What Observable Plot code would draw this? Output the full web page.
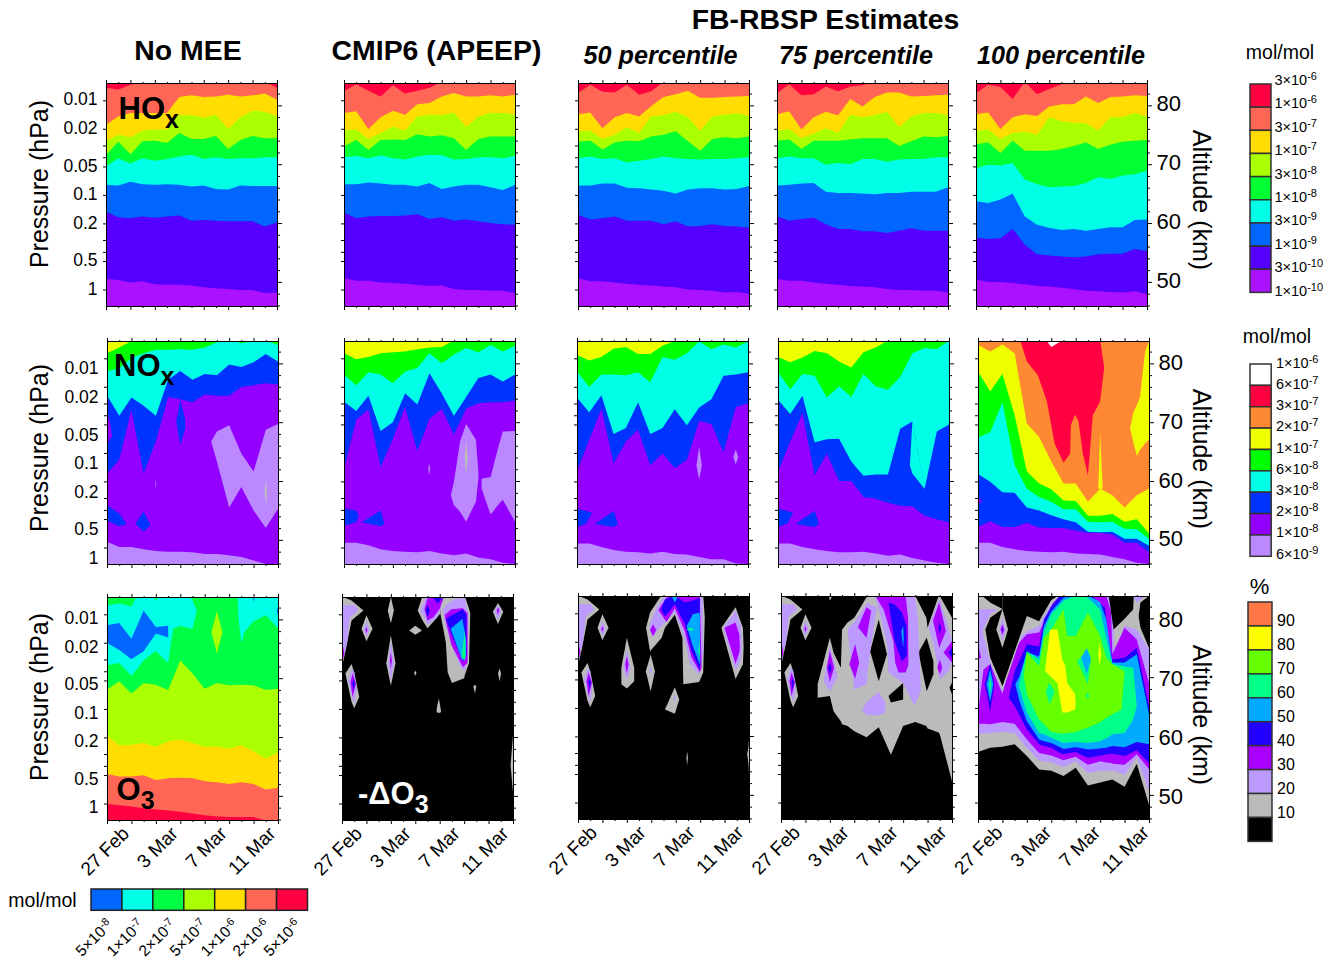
<!DOCTYPE html>
<html><head><meta charset="utf-8">
<script src="https://cdn.jsdelivr.net/npm/d3@7"></script>
<script src="https://cdn.jsdelivr.net/npm/@observablehq/plot@0.6"></script>
<style>
html,body{margin:0;padding:0;background:#fff}
#page{position:relative;width:1333px;height:958px;overflow:hidden;font-family:"Liberation Sans",Arial,sans-serif;color:#000}
#page>svg,#page>div.p{position:absolute}
.t{position:absolute;white-space:nowrap;line-height:1}
.t sup{font-size:11px;vertical-align:5px;line-height:0}
</style></head><body><div id="page"></div>
<script>
const T = 84;
const days = [0,1,2,3,4,5,6,7,8,9,10,11,12,13,14];
const tickDays = [2,6,10,14];
const tickNames = ["27 Feb","3 Mar","7 Mar","11 Mar"];
const pressureTicks = [0.01,0.02,0.03,0.04,0.05,0.1,0.2,0.3,0.4,0.5,1];
const pressureLabels = [0.01,0.02,0.05,0.1,0.2,0.5,1];
const altitudeTicks = [50,60,70,80];
const altitudeMinor = [46,48,52,54,56,58,62,64,66,68,72,74,76,78,82];

const hoxColors = ["#aa11ff","#5500ff","#0066ff","#00ffe6","#00ff33","#aaff00","#ffdd00","#ff6655","#ff0040"];
const noxColors = ["#bb88ff","#9400ff","#0033ff","#00ffe6","#00ff00","#eeff00","#ff8833","#ff0040","#ffffff","#bdbdbd"];
const o3Colors = ["#ff0040","#ff6655","#ffdd00","#aaff00","#00ff44","#00ffe6","#0066ff"];
const dO3Colors = ["#000000","#bbbbbb","#bb99ff","#aa00ff","#2200ff","#00aaff","#00ff88","#66ff00","#ffff00","#ff7744"];

// HOx: altitude (km) of each contour level against day
const hoxNoMee = [
[50.5,50.3,49.9,50.1,49.6,49.5,49.5,49.4,49.1,48.9,48.8,48.6,48.6,48.1,48.2],
[61.9,61.0,60.8,61.1,60.9,61.1,61.3,60.4,60.5,60.4,60.3,60.3,60.3,59.4,60.1],
[66.5,66.4,67.0,66.6,66.5,66.6,66.5,66.2,66.4,65.8,65.7,66.4,66.3,66.3,66.3],
[69.6,71.0,70.1,71.0,70.6,70.9,71.3,71.6,70.9,71.2,70.9,71.0,71.0,71.2,71.2],
[71.5,73.8,71.7,73.9,74.0,73.6,75.3,74.3,74.3,74.8,72.6,74.1,74.8,74.4,74.4],
[73.9,75.0,74.6,75.7,75.9,75.9,78.3,78.3,77.9,78.4,76.0,78.0,79.1,78.9,78.1],
[76.7,78.1,78.7,78.7,78.7,78.7,81.4,81.7,81.4,81.5,81.8,81.5,81.7,82.0,81.0],
[83.0,82.7,83.5,T,T,T,T,T,T,T,T,T,T,T,83.0]];
const hoxCmip = [
[50.6,50.2,50.2,49.9,49.8,49.7,49.5,49.3,49.4,48.8,48.6,48.6,48.5,48.5,48.1],
[61.8,60.8,61.1,61.2,61.2,61.3,61.5,60.7,61.0,60.4,60.6,60.3,60.0,59.8,59.7],
[66.6,66.6,66.9,66.7,66.5,66.5,66.2,66.8,65.8,66.2,66.5,66.5,66.1,65.6,66.5],
[71.2,71.4,71.0,71.5,71.0,70.8,71.3,71.6,71.5,70.8,70.9,71.2,71.2,71.0,71.4],
[73.0,74.1,72.4,74.1,74.2,74.1,75.1,74.7,74.9,74.4,72.4,74.3,74.7,74.7,74.7],
[75.8,75.9,74.3,75.3,76.4,75.7,78.1,78.4,78.3,78.8,76.3,78.1,78.7,78.7,78.5],
[78.7,79.0,76.0,78.0,79.1,78.4,80.2,80.4,81.5,82.1,81.5,81.5,81.7,81.5,81.8],
[82.4,83.6,82.5,81.5,83.4,82.0,82.5,83.0,T,T,T,T,T,T,T]];
const hox50 = [
[50.6,50.1,50.1,49.9,49.7,49.5,49.4,49.2,49.1,48.7,48.6,48.5,48.2,48.3,48.0],
[61.4,60.6,60.8,61.1,60.4,60.4,60.4,59.8,60.3,59.4,59.5,59.8,59.5,59.4,59.2],
[66.4,66.4,66.7,66.7,66.0,65.9,65.7,65.5,65.0,65.7,65.9,65.9,65.7,65.8,66.3],
[71.0,71.3,70.9,71.0,70.3,70.6,70.9,71.3,71.0,70.9,70.8,70.9,70.9,71.0,71.2],
[73.8,74.0,72.5,73.7,74.0,73.9,74.7,75.0,75.6,73.9,72.3,74.3,74.6,74.4,74.7],
[75.6,75.7,74.3,75.0,76.3,75.3,78.1,78.3,78.9,78.0,75.7,78.1,78.4,78.6,78.2],
[78.5,78.8,76.1,78.0,78.7,78.1,79.9,81.4,81.9,82.5,81.3,81.3,81.4,81.5,81.6],
[82.1,83.5,82.3,82.2,83.5,81.8,82.4,T,T,T,T,T,T,T,T]];
const hox75 = [
[50.5,50.2,50.2,49.9,49.7,49.5,49.3,49.2,49.1,48.8,48.6,48.6,48.5,48.5,48.2],
[61.1,60.4,60.7,60.9,59.8,59.0,59.0,58.6,58.6,58.3,58.7,59.1,58.7,58.7,58.7],
[66.4,66.5,66.7,66.8,65.3,65.1,65.1,65.0,64.9,65.1,65.1,65.3,65.3,65.3,66.1],
[71.0,71.3,71.0,71.0,69.9,70.2,70.0,70.9,70.9,70.4,70.8,70.9,70.9,71.2,71.2],
[74.0,74.2,72.6,74.0,74.0,74.0,74.2,74.4,74.4,74.4,73.1,73.9,74.7,74.6,74.8],
[75.7,76.0,74.4,75.2,76.1,75.3,78.4,78.0,78.3,78.9,76.3,78.1,78.7,78.7,78.3],
[78.5,79.0,75.9,78.0,78.9,78.3,81.1,79.8,81.4,82.2,82.2,81.5,81.6,81.7,81.8],
[82.1,83.6,81.7,81.9,83.2,82.4,83.2,83.4,T,T,T,T,T,T,T]];
const hox100 = [
[50.4,50.0,50.0,49.8,49.6,49.3,49.2,49.0,48.8,48.5,48.4,48.3,48.2,48.4,47.9],
[57.5,57.3,57.4,59.0,56.3,54.7,54.5,54.3,54.2,54.3,54.7,54.8,54.8,55.6,55.2],
[63.7,63.4,64.0,65.0,61.1,59.7,59.2,58.8,59.0,58.7,59.0,59.3,59.3,60.5,60.6],
[69.3,69.9,69.8,70.2,67.4,66.6,66.1,66.2,66.3,66.8,67.8,67.5,68.1,68.3,68.9],
[73.4,73.7,71.9,74.0,72.3,72.3,72.3,72.6,73.1,73.7,72.6,73.3,73.8,74.0,74.1],
[75.7,75.9,74.3,75.3,75.5,75.0,78.0,77.3,77.0,77.0,75.7,78.0,78.0,78.7,78.1],
[78.5,78.8,76.0,78.0,78.5,78.2,79.8,80.2,80.2,81.5,80.4,81.4,81.5,81.7,81.6],
[82.1,83.5,83.1,81.1,T,81.9,82.8,83.6,T,T,T,T,T,T,T]];

// NOx
const noxNoMee = [
[49.7,48.8,48.8,48.4,48.1,48.0,48.0,47.9,47.6,47.6,47.4,47.1,46.5,45.9,45.9],
[61.3,63.6,72.1,61.3,66.7,74.3,73.9,73.4,74.7,74.5,74.5,76.0,76.3,76.6,76.4],
[74.6,71.1,74.2,72.8,71.1,77.2,78.7,77.2,78.2,78.0,79.8,79.4,80.2,81.6,80.3],
[78.6,79.2,80.9,81.7,82.3,82.3,82.4,82.3,82.7,83.6,T,83.4,83.9,83.9,83.1],
[81.7,82.7,83.8,T,T,T,T,T,T,T,T,T,T,T,T]];
const noxNoMeeExtra = [
[1,[0,.2,.4],[71.5,70.4,67.8],[65.8,67.0,67.5]],
[2,[5.67,6,6.4],[70.1,73.8,70.4],[70.1,66.1,69.0]],
[2,[0,1,1.6],[55.9,54.5,52.7],[53.3,52.3,52.7]],
[2,[2.33,3,3.55],[52.8,54.8,52.5],[52.8,51.4,52.5]],
[0,[8.53,9,10,11,12,13,14],[66.7,68.4,69.5,64.7,61.6,68.7,69.7],[66.7,63.3,55.5,59.0,55.0,52.0,55.3]],
[9,[12.9,13,13.1],[58.2,60.2,58.2],[58.2,55.9,58.2]],
[0,[3.97,4,4.03],[59.5,60.4,59.5],[59.5,58.4,59.5]]];
const noxCmip = [
[49.5,49.5,49.1,48.4,48.1,48.0,47.9,48.1,47.7,47.4,47.7,47.0,46.7,46.1,45.9],
[62.1,70.4,72.2,62.4,67.2,72.6,65.1,70.6,72.3,67.9,72.3,73.2,73.4,73.4,73.7],
[73.5,71.9,74.5,68.5,70.0,74.9,73.0,78.3,74.9,71.1,74.3,77.5,78.1,76.9,78.1],
[78.1,76.3,78.5,78.1,76.6,78.6,79.2,81.7,80.0,81.5,82.6,81.9,83.1,82.0,83.0],
[81.7,80.7,81.1,81.7,81.9,82.0,82.4,82.7,82.8,83.9,T,T,T,T,T]];
const noxCmipExtra = [
[2,[0,1,1.2],[55.3,55.0,54.2],[52.4,53.0,54.2]],
[2,[1.45,3,3.3],[53.0,55.0,52.7],[53.0,52.3,52.7]],
[0,[8.75,9,9.5,10,10.8,11],[57.6,59.9,66.7,69.7,67.0,61.6],[57.6,55.9,54.8,53.1,56.5,60.4]],
[0,[11.27,12,12.6,13,14],[60.4,60.7,65.5,68.4,68.5],[58.7,54.3,55.9,56.8,53.1]],
[9,[9.88,10,10.12],[64.1,66.9,64.1],[64.1,61.0,64.1]],
[0,[6.9,6.97,7.05],[62.1,63.0,62.1],[62.1,61.0,62.1]]];
const nox50 = [
[49.4,49.4,48.8,48.3,48.0,47.9,47.7,48.0,47.6,47.5,47.1,46.7,46.7,46.0,45.9],
[61.7,67.0,72.3,63.0,66.7,68.7,62.7,64.7,62.2,63.6,70.2,69.7,64.9,72.6,73.2],
[74.2,71.7,74.6,68.0,69.0,73.4,68.0,69.0,72.2,69.5,72.5,73.9,77.9,78.1,78.5],
[78.6,76.0,78.1,78.1,78.0,78.5,76.8,81.1,80.6,81.7,83.7,82.4,83.2,82.7,83.7],
[81.4,80.5,81.1,82.5,82.8,81.6,81.6,83.0,83.8,T,T,T,T,T,T]];
const nox50Extra = [
[2,[0,.76,1.23],[55.3,54.9,54.6],[52.2,52.8,54.6]],
[2,[1.45,3,3.35],[52.7,54.9,52.7],[52.7,52.2,52.7]],
[0,[9.78,10,10.22],[62.7,65.8,62.7],[62.7,60.2,62.7]],
[0,[12.8,13,13.2],[64.1,65.4,64.1],[64.1,62.8,64.1]]];
const nox75 = [
[49.4,49.4,48.8,48.4,48.1,47.9,47.9,48.0,47.7,47.3,47.5,46.9,46.5,46.1,45.9],
[61.6,66.7,71.5,61.0,64.7,60.0,60.0,57.3,57.0,56.3,55.8,55.7,54.1,53.5,53.0],
[73.8,71.4,74.5,66.6,67.1,67.2,63.3,60.9,61.1,61.1,68.9,70.1,58.7,68.4,69.6],
[78.5,75.6,78.2,77.9,74.2,76.1,74.3,78.2,76.1,75.5,77.7,81.7,82.6,82.4,83.9],
[81.1,80.2,81.0,82.1,81.7,80.3,79.3,81.9,82.7,83.9,T,T,T,T,T]];
const nox75Extra = [
[3,[10.8,11,12],[62.7,70.1,58.9],[62.7,61.3,58.7]],
[2,[0,.76,1.23],[55.3,54.9,54.6],[52.2,52.8,54.6]],
[2,[1.45,3,3.35],[52.7,54.9,52.7],[52.7,52.2,52.7]]];
const nox100 = [
[49.5,49.5,48.8,48.4,48.1,48.0,47.9,48.0,47.7,47.6,47.5,47.1,46.7,46.1,45.9],
[52.2,53.2,52.2,52.2,52.9,52.1,52.0,52.0,51.6,51.2,51.2,50.9,49.5,49.5,47.9],
[61.2,59.9,58.1,58.0,55.5,55.0,54.2,53.5,53.0,51.4,51.3,51.4,50.2,50.2,49.0],
[67.4,68.3,73.4,62.7,58.7,57.3,56.5,55.2,55.2,53.1,53.0,53.1,51.9,51.8,50.2],
[78.6,75.2,78.2,71.2,61.6,59.6,58.6,56.7,56.6,54.1,54.1,54.4,53.1,53.5,51.1],
[83.1,82.0,83.2,81.7,69.8,67.5,63.3,59.6,59.6,56.5,58.7,57.6,55.5,57.6,58.7]];
const nox100Extra = [
[5,[9.85,10,10.2],[58.7,68.4,58.7],[58.7,58.7,58.7]],
[5,[12.45,12.7,13,13.27,13.68,14],[68.9,71.5,72.9,74.3,82.0,83.7],[68.9,66.7,64.3,65.3,66.4,67.0]],
[7,[3.46,4,4.9,5.64,6.27,7,7.55,7.6,7.95,8.23,8.58,9,9.4,10,10.33],[T,T,T,T,T,T,T,T,T,T,T,T,T,T,79.2],[83.9,80.3,78.0,73.5,66.4,63.1,64.7,69.5,71.3,70.1,64.7,61.0,71.2,73.5,79.2]],
[8,[5.6,6,6.9],[T,T,T],[83.9,82.8,83.9]],
[1,[0,.33],[57.3,56.6],[56.0,56.6]]];

// O3
const o3Base = [
[48.6,48.4,48.2,47.9,47.7,47.5,47.3,47.0,46.7,46.5,46.4,46.4,46.4,45.8,45.7],
[53.7,53.3,53.3,53.5,52.7,53.0,53.1,53.0,52.5,52.3,52.0,52.3,52.0,51.1,51.4],
[60.2,58.6,58.7,59.0,58.3,59.3,59.6,59.0,58.3,58.4,58.0,58.6,57.6,56.3,57.4],
[68.1,69.5,67.4,69.2,68.9,68.0,73.0,70.8,68.2,69.2,68.8,68.9,68.8,68.0,68.2]];
const o3Extra = [
[3,[8.55,9,9.45],[77.8,81.4,77.8],[77.8,74.2,77.8]],
[5,[0,1,2,2.4,3,3.92,4,4.2,5,5.41,6,6.82,7,7.35],[82.4,82.7,82.2,83.8,83.8,83.8,83.1,83.8,83.8,83.8,83.8,83.8,83.2,81.5],[72.2,72.6,70.4,71.4,73.0,74.6,74.6,74.2,72.6,78.4,78.9,78.5,78.4,81.5]],
[5,[10.7,10.77,11,11.24,12,13,14],[T,T,T,T,T,T,T],[83.8,80.1,76.0,77.8,79.7,80.7,78.5]],
[6,[0,1,2,3,4,5,5.02],[79.0,79.4,76.7,81.5,78.7,78.9,76.9],[76.0,74.8,73.2,74.6,77.6,76.9,76.9]],
[6,[11.9,12,12.1],[T,T,T],[83.8,83.0,83.8]],
[6,[13.9,14],[81.4,82.1],[81.4,80.7]]];

// -dO3: shared early features
const dO3Early = [
[1,[0,.33,.78,1.75],[83.8,83.6,83.2,81.5],[71.9,75.0,79.8,81.5]],
[2,[0,.42,.64,1.05,1.33],[82.4,82.4,82.4,82.4,81.5],[72.5,76.1,80.4,81.0,81.5]],
[3,[0,.2],[76.1,74.2],[72.5,74.2]],
[1,[.28,.78,1,1.41],[70.8,72.4,71.0,66.8],[70.8,66.0,64.9,66.8]],
[2,[.5,.83,1,1.2],[69.6,71.6,71.0,68.2],[69.6,66.8,65.8,68.2]],
[3,[.7,.86,1.15],[69.3,70.8,69.1],[69.3,66.8,69.1]],
[4,[.85,.95,1.05],[69.1,69.9,69.1],[69.1,67.9,69.1]],
[1,[1.6,2,2.5],[78.4,80.7,78.4],[78.4,76.3,78.4]],
[2,[1.78,2,2.25],[78.2,79.6,78.2],[78.2,77.0,78.2]],
[3,[1.92,2,2.08],[78.2,78.7,78.2],[78.2,77.7,78.2]]];
const dO3Cmip = [
[1,[3.75,4,4.25],[81.5,83.8,81.5],[81.5,79.3,81.5]],
[1,[5.5,6,6.55],[78.1,78.9,78.1],[78.1,77.4,78.1]],
[1,[3.63,4,4.38],[72.5,77.3,72.5],[72.5,68.7,72.5]],
[2,[3.78,4,4.25],[72.5,76.1,72.5],[72.5,69.6,72.5]],
[3,[3.92,4,4.08],[73.0,74.4,73.0],[73.0,71.6,73.0]],
[1,[6.2,6.6,7,7.7,8.05],[81.5,T,T,T,T],[81.5,79.8,78.5,80.1,81.0]],
[1,[8.05,8.5,8.65,9,10,10.05,10.4,10.5],[T,T,T,T,T,T,81.8,81.0],[81.0,76.1,71.0,69.2,70.0,70.5,72.6,81.0]],
[2,[6.4,6.8,7,7.7,8.1],[81.5,83.6,83.7,83.7,83.7],[81.5,80.1,79.1,80.1,81.7]],
[2,[8.25,8.5,9.2,9.7,10.05,10.33],[81.7,82.4,83.4,83.5,83.6,81.0],[81.7,78.7,74.4,71.9,71.2,73.3]],
[3,[6.75,7,7.5,8,8.3],[81.7,83.6,83.7,83.7,83.5],[81.7,79.8,80.4,81.8,83.5]],
[4,[7.4,7.85,8.3],[T,T,T],[83.8,82.7,83.8]],
[4,[6.85,7,7.2],[81.5,82.4,81.5],[81.5,80.4,81.5]],
[3,[8.4,8.95,9.9,10.28],[80.7,81.7,81.9,81.0],[80.7,75.7,71.9,72.6]],
[4,[8.5,9,9.9,10.2],[80.1,80.7,81.7,80.7],[80.1,77.3,72.9,73.9]],
[5,[8.9,9.85,10.15],[78.4,80.1,76.7],[78.4,73.0,73.6]],
[6,[9.8,10.05,10.1],[73.6,78.1,75.6],[73.6,73.0,73.9]],
[1,[12.35,12.77,13.2],[81.3,82.8,81.3],[81.3,79.2,81.3]],
[2,[12.5,12.77,13.05],[81.4,82.4,81.4],[81.4,79.8,81.4]],
[3,[12.68,12.77,12.87],[81.5,82.1,81.5],[81.5,80.8,81.5]],
[1,[5.9,6,6.1],[70.9,71.3,70.9],[70.9,70.4,70.9]],
[1,[12.78,12.9,13.02],[70.8,71.7,70.8],[70.8,69.5,70.8]],
[1,[10.75,10.88,11],[68.7,68.8,68.7],[68.7,67.4,68.7]],
[1,[7.75,7.93,8.1],[64.8,66.6,64.5],[64.2,64.1,64.2]],
[1,[13.8,14],[55.2,60.3],[55.2,50.6]]];
const dO350 = [
[1,[3.55,4,4.6],[71.6,76.7,71.6],[68.8,68.1,69.3]],
[2,[3.72,4,4.3],[71.6,74.7,71.6],[71.6,69.6,71.6]],
[3,[3.87,4,4.13],[72.2,73.6,72.2],[72.2,70.6,72.2]],
[1,[5.55,5.95,6.3],[71.0,73.8,71.0],[71.0,67.6,71.0]],
[2,[5.85,5.95,6.05],[71.0,71.9,71.0],[71.0,70.5,71.0]],
[1,[5.57,5.9,6.85,7.12,7.93,8.55,8.62,9.92,10.25,10.38],[78.4,81.0,T,T,T,T,T,T,T,80.1],[78.4,74.4,76.7,78.4,80.6,76.7,68.8,69.2,70.8,80.1]],
[2,[5.84,6.1,6.44,7.12,7.93,8.75,9.16,9.92,10.2,10.25],[78.7,80.1,81.8,83.9,83.9,83.9,83.9,83.6,83.6,74.4],[78.7,76.7,77.8,79.3,81.0,76.4,72.2,70.4,73.3,74.4]],
[3,[5.9,6.15,6.4],[78.0,79.0,78.0],[78.0,77.0,78.0]],
[3,[6.58,7.25,7.93,8.75,9.3,9.97,10.12],[81.4,83.5,83.9,83.9,83.7,83.7,71.6],[81.4,79.4,81.7,77.8,73.3,70.9,71.6]],
[4,[6.8,7.12,7.93,8.75,9.3,9.97,10],[81.5,83.2,83.9,82.7,83.0,83.4,72.2],[81.5,80.3,82.4,79.0,74.4,71.2,72.2]],
[5,[7.66,7.93,8.2],[T,T,T],[83.8,82.7,83.8]],
[5,[8.9,9.4,9.97,10],[78.7,80.7,81.0,72.2],[78.7,75.3,72.2,72.2]],
[6,[8.85,9.2,9.55],[78.1,78.4,78.1],[78.1,77.9,78.1]],
[6,[9.85,9.95,10],[74.4,76.1,74.4],[74.4,73.6,73.9]],
[1,[11.74,12.9,13.5,13.56],[78.4,81.9,78.4,75.0],[78.4,69.7,72.2,75.0]],
[2,[11.9,12.9,13.35,13.4],[78.4,81.3,78.7,75.3],[78.4,71.2,73.0,75.3]],
[3,[12,12.9,13.2,13.25],[78.4,79.3,77.3,75.0],[78.4,72.3,74.2,75.0]],
[1,[7.12,7.93,8.29],[64.5,68.3,66.2],[64.5,63.8,66.2]],
[2,[7.85,7.93,8],[66.5,67.1,66.5],[66.5,65.8,66.5]],
[1,[8.88,8.94,9],[56.3,57.4,56.3],[56.3,55.0,56.3]],
[1,[13.85,13.95,14],[56.9,58,59.4],[56.9,55.5,53.7]]];
const dO375 = [
[1,[3.9,4,4.25],[T,T,T],[84,83,84]],
[1,[3,4,4.3,4.9,5,5.45,6,7,8,9,10,11,11.9,12,12.9,13,14],[68.8,76.7,74.2,71.6,78.1,79.3,80.1,83.6,83.8,83.8,83.8,83.8,80.1,78.4,83.8,83.8,80.1],[66.5,66.8,64.2,62.5,62.0,61.7,60.8,59.8,61.5,56.8,61.7,62.4,61.7,61.3,60.6,60.3,52.3]],
[0,[7.3,8,8.67],[74.4,79.8,73.9],[74.4,69.3,73.9]],
[0,[11.25,11.93,12.48],[74.2,76.7,72.7],[74.2,67.6,70.5]],
[0,[8.8,9,10],[66.8,67.2,69.0],[66.8,65.7,66.2]],
[0,[13.8,14],[68.2,69.1],[68.2,67.1]],
[2,[3.5,4,4.6],[69.3,75.3,70.5],[69.3,67.6,70.0]],
[3,[3.75,4,4.35],[71.6,74.4,71.6],[71.6,69.2,71.6]],
[4,[3.87,4,4.13],[71.5,72.5,71.5],[71.5,70.5,71.5]],
[2,[5.45,6,7,7.08,7.3,7.85],[78.1,79.3,82.4,82.7,82.4,81.8],[78.1,67.9,68.8,70.5,74.4,81.8]],
[3,[5.6,6.07,6.4],[72.2,75.6,72.5],[72.2,69.8,72.5]],
[3,[6.3,7,7.38],[78.5,81.9,81.3],[78.5,76.7,81.3]],
[2,[7.7,8,8.7,8.8,10,10.9,11,11.2,11.45],[83.9,83.9,83.9,83.9,83.9,83.9,83.2,80.1,67.6],[83.9,81.5,75.6,70.8,69.0,65.3,65.7,66.5,67.6]],
[3,[7.7,8.4,9.2,9.35,9.62,10.2,10.4,10.43],[83.9,83.9,83.9,83.9,83.9,83.9,80.1,72.2],[83.9,81.5,76.1,72.5,70.8,70.8,71.9,72.2]],
[4,[8.8,9.3,9.9,10.28,10.3],[82.7,82.4,81.0,78.7,73.6],[82.7,76.1,72.7,73.6,73.6]],
[5,[9.85,10,10.05],[77.8,78.7,76.7],[77.8,75.0,76.7]],
[2,[6.62,7,8,8.53,8.55],[64.4,65.8,67.5,65.7,64.8],[64.4,63.6,63.5,64.0,64.8]],
[2,[12.07,12.5,13,13.7,14],[78.4,81.0,83.2,78.4,76.1],[78.4,75.6,69.6,71.0,72.5]],
[3,[12.45,12.95,13.5],[79.6,82.7,77.8],[79.6,75.0,77.8]],
[3,[12.8,13,13.2],[71.6,73.0,71.6],[71.6,70.5,71.6]],
[3,[13.3,14],[74.2,76.1],[74.2,72.5]],
[4,[13.7,14],[74.2,75.0],[74.2,73.3]],
[4,[12.9,13,13.1],[78.4,79.3,78.4],[78.4,77.3,78.4]]];
const dO3100Base = [[57.3,58.0,58.2,58.6,56.6,54.3,54.1,53.2,54.6,51.6,52.1,52.6,51.4,55.3,48.3]];
const dO3100 = [
[2,[0,1,2,3,4,5,6,6.3,7,8,9,10,10.8,11.05,11.2,12,13,14],[81.5,81.6,81.6,76.1,77.8,78.7,83.0,83.9,83.9,83.9,83.9,83.9,83.9,81.0,74.2,78.8,78.1,74.7],[60.4,60.5,60.7,60.5,58.0,55.8,55.6,55.3,54.7,55.7,53.7,54.1,54.1,54.1,54.1,53.4,56.3,50.6]],
[3,[0,.45,1,2,3,4,5,6,6.5,7,8,9,10,10.5,10.9,11,12,13,14],[63.9,71.3,72.2,67.2,75.0,77.3,77.6,82.1,83.9,83.9,83.9,83.9,83.9,83.9,81.0,73.9,78.4,76.4,69.0],[62.1,62.1,62.0,62.4,62.1,59.4,57.1,56.7,56.3,55.9,56.5,55.1,55.7,55.5,55.4,55.3,55.1,56.9,54.4]],
[3,[0,.25],[75.6,73.3],[73.0,73.3]],
[1,[.4,1,2,2.01,3,4,5,6,6.6,6.8],[78.1,80.7,82.2,T,T,T,T,T,T,T],[77.6,72.5,67.6,67.6,73.7,79.8,79.0,82.4,83.5,83.9]],
[0,[.6,1,2,2.01,3,4,5,6,6.6],[78.1,80.1,81.6,T,T,T,T,T,T],[78.1,73.3,68.5,68.5,74.4,80.4,79.5,83.1,83.9]],
[0,[.3,1,2],[T,T,T],[83.9,82.7,81.6]],
[0,[10.7,11.1,11.94,12.7,12.76],[T,T,T,T,T],[83.9,78.1,79.8,81.5,83.9]],
[0,[13.15,13.3,14],[80.4,82.7,83.8],[80.4,78.4,75.0]],
[2,[12.65,13,13.8],[T,T,T],[83.9,82.7,83.9]],
[1,[1.5,2,2.46],[78.1,81.6,78.1],[78.1,75.0,78.1]],
[2,[1.75,2,2.25],[78.1,80.1,78.1],[78.1,76.1,78.1]],
[3,[1.85,2,2.15],[78.1,79.0,78.1],[78.1,77.2,78.1]],
[4,[1.95,2,2.05],[78.1,78.4,78.1],[78.1,77.6,78.1]],
[4,[.55,1,1.35],[68.8,72.3,68.8],[68.8,64.2,68.8]],
[5,[.7,1,1.25],[68.8,71.3,68.8],[68.8,65.8,68.8]],
[6,[.9,1,1.1],[68.8,70.1,68.8],[68.8,67.0,68.8]],
[4,[2.51,3,4,5,5.4,6,6.7,7,8,9,9.5,10.4,10.6,11,12,13,14],[66.5,71.0,75.6,75.2,79.8,82.0,83.9,83.9,83.9,83.9,83.5,81.8,77.8,73.0,73.3,75.0,65.1],[66.5,65.1,61.1,58.6,58.3,58.0,57.1,56.9,57.3,56.3,56.5,56.8,56.9,57.0,56.6,57.6,55.4]],
[5,[3.05,3.4,4,5,5.4,6,7,8,9,10,10.5,11,12,13,14],[68.8,70.2,74.3,73.5,78.7,81.2,83.5,83.9,83.9,82.8,79.8,72.5,72.5,73.9,63.7],[68.8,65.9,62.5,59.4,59.1,58.8,57.8,58.1,57.7,57.9,58.0,58.3,58.1,59.0,58.6]],
[6,[3.33,4,5,5.4,6,7,8,9,10,10.6,11,12,12.7,13],[68.5,74.4,73.0,77.8,80.7,83.0,83.9,83.5,81.5,75.6,72.3,71.8,71.6,65.1],[68.5,64.0,60.5,60.3,59.7,58.8,59.0,58.8,59.1,59.7,60.3,60.5,62.8,65.1]],
[7,[3.75,4,5,5.4,6,7,7.3,8,8.5,9,10,10.5,11,11.75,12],[70.2,74.2,71.9,76.7,78.1,81.5,77.0,77.0,79.0,81.0,77.0,73.3,72.2,71.3,71.0],[70.2,67.1,62.8,62.0,60.7,60.4,60.5,60.7,61.1,61.4,62.4,63.1,63.7,64.5,71.0]],
[6,[5.55,5.85,6.25],[67.6,69.1,67.6],[67.6,65.4,67.3]],
[6,[8.12,9,9.25],[72.7,74.7,73.3],[72.7,68.8,73.3]],
[5,[8.45,8.9,9.2],[73.3,74.9,73.3],[73.3,70.5,72.7]],
[6,[8.85,9,9.1],[66.8,67.5,66.8],[66.8,66.3,66.8]],
[8,[5.5,5.9,6.5,6.9,7.15,7.3,7.95,8],[71.3,78.1,78.1,73.0,71.9,69.0,67.1,65.6],[71.0,70.2,69.0,64.0,64.0,64.0,64.5,65.6]],
[8,[9.85,9.95,10.08],[73.9,75.9,73.9],[73.9,71.9,73.9]]];

const panels = [
 {x:105.5,y:82.5,colors:hoxColors,base:hoxNoMee,extra:[],col:0,row:0},
 {x:343.5,y:82.5,colors:hoxColors,base:hoxCmip,extra:[],col:1,row:0},
 {x:577.7,y:82.5,colors:hoxColors,base:hox50,extra:[],col:2,row:0},
 {x:776.5,y:82.5,colors:hoxColors,base:hox75,extra:[],col:3,row:0},
 {x:975.7,y:82.5,colors:hoxColors,base:hox100,extra:[],col:4,row:0},
 {x:107,y:340.7,colors:noxColors,base:noxNoMee,extra:noxNoMeeExtra,col:0,row:1},
 {x:343.5,y:340.7,colors:noxColors,base:noxCmip,extra:noxCmipExtra,col:1,row:1},
 {x:577.3,y:340.7,colors:noxColors,base:nox50,extra:nox50Extra,col:2,row:1},
 {x:778.3,y:340.7,colors:noxColors,base:nox75,extra:nox75Extra,col:3,row:1},
 {x:977.7,y:340.7,colors:noxColors,base:nox100,extra:nox100Extra,col:4,row:1},
 {x:107,y:596.5,colors:o3Colors,base:o3Base,extra:o3Extra,col:0,row:2},
 {x:342,y:596.5,colors:dO3Colors,base:[],extra:[...dO3Early,...dO3Cmip],col:1,row:2},
 {x:577.7,y:595.5,colors:dO3Colors,base:[],extra:[...dO3Early,...dO350],col:2,row:2},
 {x:780.7,y:595.5,colors:dO3Colors,base:[],extra:[...dO3Early,...dO375],col:3,row:2},
 {x:977.7,y:596,colors:dO3Colors,base:dO3100Base,extra:dO3100,col:4,row:2}
];
const pressureLabelShift = [-1,10,3.7];
const altitudeLabelShift = [-1.5,-1,1.5];
const dateLabelShift = [-6,-8,-9,-9,-3.5];

const page = document.getElementById("page");
const W = 171, H = 223, ml = 70, mr = 70, mt = 8, mb = 70;
const altOfP = p => 48.7 - 16.08 * Math.log10(p);
const yDom = [45.9, 83.8];

function drawPanel(s){
  const marks = [Plot.rect([0],{x1:0,x2:14,y1:yDom[0],y2:yDom[1],fill:s.colors[0]})];
  s.base.forEach((b,k)=>{
    const rows = days.map((d,i)=>({d,lo:b[i],hi:T}));
    marks.push(Plot.area(rows,{x1:"d",y1:"lo",y2:"hi",fill:s.colors[k+1],clip:true}));
  });
  s.extra.forEach(([band,ds,hi,lo])=>{
    const rows = ds.map((d,i)=>({d,lo:lo[i],hi:hi[i]}));
    marks.push(Plot.area(rows,{x1:"d",y1:"lo",y2:"hi",fill:s.colors[band],clip:true}));
  });
  marks.push(Plot.frame({stroke:"#000",strokeWidth:1}));
  const even = days.filter(d=>d%2==0), odd = days.filter(d=>d%2==1);
  for (const anchor of ["top","bottom"]) {
    marks.push(Plot.axisX({anchor,ticks:odd,tickSize:2,tickFormat:()=>"",label:null}));
    marks.push(Plot.axisX({anchor,ticks:even,tickSize:4,tickFormat:()=>"",label:null}));
  }
  if (s.row===2) {
    marks.push(Plot.axisX({anchor:"bottom",ticks:tickDays,tickSize:0,label:null,tickRotate:-45,tickPadding:10,fontSize:19,
      dx:dateLabelShift[s.col],tickFormat:d=>tickNames[tickDays.indexOf(d)]}));
  }
  marks.push(Plot.axisY({anchor:"left",ticks:pressureTicks.map(altOfP),tickSize:3,tickFormat:()=>"",label:null}));
  if (s.col===0) {
    marks.push(Plot.axisY({anchor:"left",ticks:pressureLabels.map(altOfP),tickSize:0,tickPadding:9,label:null,fontSize:17.5,
      dy:pressureLabelShift[s.row],
      tickFormat:a=>String(pressureLabels.find(v=>Math.abs(altOfP(v)-a)<1e-6))}));
  }
  marks.push(Plot.axisY({anchor:"right",ticks:altitudeMinor,tickSize:2,tickFormat:()=>"",label:null}));
  marks.push(Plot.axisY({anchor:"right",ticks:altitudeTicks,tickSize:4,tickFormat:()=>"",label:null}));
  if (s.col===4) {
    marks.push(Plot.axisY({anchor:"right",ticks:altitudeTicks,tickSize:0,tickPadding:9,label:null,fontSize:22,
      dy:altitudeLabelShift[s.row],tickFormat:a=>String(a)}));
  }
  const svg = Plot.plot({
    width:W+ml+mr,height:H+mt+mb,marginLeft:ml,marginRight:mr,marginTop:mt,marginBottom:mb,
    style:{background:"transparent",overflow:"visible",fontFamily:'"Liberation Sans",Arial,sans-serif',color:"#000"},
    x:{domain:[0,14]},y:{domain:yDom},
    marks
  });
  svg.style.position="absolute";svg.style.left=(s.x-ml)+"px";svg.style.top=(s.y-mt)+"px";svg.style.maxWidth="none";
  page.appendChild(svg);
}
panels.forEach(drawPanel);

function text(html,x,y,css){
  const e=document.createElement("div");e.className="t";e.innerHTML=html;
  e.style.cssText=`left:${x}px;top:${y}px;`+(css||"");
  page.appendChild(e);return e;
}
const ctr="transform:translate(-50%,-50%);";
const titles=[["No MEE",188,50,"bold 28.4px"],["CMIP6 (APEEP)",436.5,50,"bold 28.4px"],["FB-RBSP Estimates",825.5,19,"bold 28.4px"],
 ["50 percentile",660.5,55,"italic bold 25.2px"],["75 percentile",856,55,"italic bold 25.2px"],["100 percentile",1061,55,"italic bold 25.2px"]];
titles.forEach(([t,x,y,f])=>text(t,x,y,ctr+`font:${f} "Liberation Sans",Arial,sans-serif;`));
[183.7,447.7,696.7].forEach(y=>text("Pressure (hPa)",39,y,"transform:translate(-50%,-50%) rotate(-90deg);font-size:25px;"));
[200,459,715].forEach(y=>text("Altitude (km)",1200.5,y,"transform:translate(-50%,-50%) rotate(90deg);font-size:25px;"));

const lab=(html,x,y,color)=>text(html,x,y,`transform:translateY(-50%);font:bold 31px "Liberation Sans",Arial,sans-serif;color:${color||"#000"};`);
const sub=s=>`<span style="font-size:25px;position:relative;top:9px">${s}</span>`;
lab("HO"+sub("x"),118.5,109);
lab("NO"+sub("x"),114,366);
lab("O"+sub("3"),116.5,790);
lab("-&#916;O"+sub("3"),358,794,"#fff");

// Colour bars
const sciLabels1=[["3","-6"],["1","-6"],["3","-7"],["1","-7"],["3","-8"],["1","-8"],["3","-9"],["1","-9"],["3","-10"],["1","-10"]];
const sciLabels2=[["1","-6"],["6","-7"],["3","-7"],["2","-7"],["1","-7"],["6","-8"],["3","-8"],["2","-8"],["1","-8"],["6","-9"]];
const pctLabels=[90,80,70,60,50,40,30,20,10];
const sciLabels3=[["5","-8"],["1","-7"],["2","-7"],["5","-7"],["1","-6"],["2","-6"],["5","-6"]];
const sci=([a,b])=>`${a}&#215;10<sup>${b}</sup>`;

function bar(colors,x,y,w,h,horizontal){
  const rows=colors.map((c,i)=>({i,c}));
  const opts=horizontal?{x1:"i",x2:d=>d.i+1,y1:0,y2:1,fill:"c",stroke:"#222",strokeWidth:1.5}
                       :{x1:0,x2:1,y1:"i",y2:d=>d.i+1,fill:"c",stroke:"#333",strokeWidth:1.5};
  const n=colors.length;
  const svg=Plot.plot({width:w+4,height:h+4,marginLeft:2,marginRight:2,marginTop:2,marginBottom:2,
    style:{background:"transparent"},
    x:{domain:horizontal?[0,n]:[0,1],axis:null},y:{domain:horizontal?[0,1]:[n,0],axis:null},
    color:{type:"identity"},
    marks:[Plot.rect(rows,opts)]});
  svg.style.position="absolute";svg.style.left=(x-2)+"px";svg.style.top=(y-2)+"px";svg.style.maxWidth="none";
  page.appendChild(svg);
}
bar([...hoxColors].reverse(),1250,84.3,21,208.4);
bar(noxColors.slice(0,9).reverse(),1249.5,364.3,21.2,192.4);
bar([...dO3Colors].reverse(),1247.5,602.3,24,239.4);
bar([...o3Colors].reverse(),90.5,889,216.5,21.3,true);

const lblCss="transform:translateY(-50%);font-size:14.5px;";
text("mol/mol",1280,53,ctr+"font-size:19.5px;");
sciLabels1.forEach((l,i)=>text(sci(l),1274.5,80+i*23.4,lblCss));
text("mol/mol",1277,336.5,ctr+"font-size:19.5px;");
sciLabels2.forEach((l,i)=>text(sci(l),1276,362.7+i*21.2,lblCss));
text("%",1259.5,587,ctr+"font-size:22px;");
pctLabels.forEach((l,i)=>text(l,1277,620.7+i*24,"transform:translateY(-50%);font-size:16px;"));
text("mol/mol",42.5,900.5,ctr+"font-size:19.5px;");
sciLabels3.forEach((l,i)=>text(sci(l),110+i*31.3,922,"transform-origin:100% 50%;transform:translate(-100%,-50%) rotate(-45deg);font-size:15.5px;"));
</script></body></html>
